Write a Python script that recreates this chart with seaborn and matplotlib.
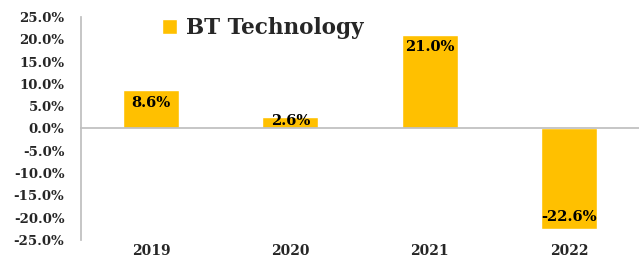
import matplotlib
matplotlib.use("Agg")
import matplotlib.pyplot as plt
import seaborn as sns
import pandas as pd
from matplotlib.ticker import FuncFormatter, FixedLocator

# data
years = ["2019", "2020", "2021", "2022"]
growth = [8.6, 2.6, 21.0, -22.6]
series_name = "BT Technology"

sns.set_theme(style="white")
plt.rcParams["font.family"] = ["DejaVu Serif"]

bar_color = "#FFC000"
axis_color = "#BFBFBF"
text_color = "#262626"

df = pd.DataFrame({"year": years, "growth": growth})

fig = plt.figure(figsize=(6.39, 2.58), dpi=100)
ax = fig.add_axes([0.127, 0.07, 0.873, 0.864])

sns.barplot(data=df, x="year", y="growth", color=bar_color, width=0.4,
            saturation=1, ax=ax, label=series_name)

ax.set_ylim(-25, 25)
ax.set_xlim(-0.5, len(years) - 0.5)
ax.yaxis.set_major_locator(FixedLocator(range(-25, 30, 5)))
ax.yaxis.set_major_formatter(FuncFormatter(lambda v, p: f"{v:.1f}%"))
ax.set_xlabel("")
ax.set_ylabel("")

# spines: left axis plus a zero line with category separators
for s in ["top", "right"]:
    ax.spines[s].set_visible(False)
ax.spines["left"].set_color(axis_color)
ax.spines["bottom"].set_position(("data", 0))
ax.spines["bottom"].set_color(axis_color)
ax.tick_params(axis="y", which="major", length=4, color=axis_color,
               direction="out", labelsize=9.5, labelcolor=text_color, pad=8)
ax.tick_params(axis="x", which="major", length=0, pad=83,
               labelsize=10, labelcolor=text_color)
ax.xaxis.set_minor_locator(FixedLocator([0.5, 1.5, 2.5]))
ax.tick_params(axis="x", which="minor", length=3, color=axis_color,
               direction="out")
for lbl in ax.get_xticklabels() + ax.get_yticklabels():
    lbl.set_fontweight("bold")

# data labels inside the bar end
for i, v in enumerate(growth):
    off = -min(9.0, abs(v) * 1.05)
    off = off if v >= 0 else -off
    ax.annotate(f"{v:.1f}%", (i, v), xytext=(0, off), textcoords="offset points",
                ha="center", va="center", fontsize=10.5, fontweight="bold",
                color="black")

leg = ax.legend(loc="upper left", bbox_to_anchor=(0.11, 1.085), frameon=False,
                handlelength=0.7, handleheight=0.7, handletextpad=0.4,
                prop={"weight": "bold", "size": 15.5})

fig.savefig("out.png", dpi=100)
